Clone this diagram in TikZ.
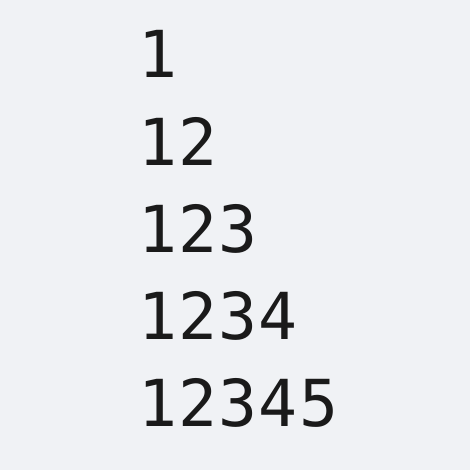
\documentclass[tikz,border=0pt]{standalone}
\usepackage{fontspec}
\setmonofont[LetterSpace=2]{DejaVu Sans Mono}
\definecolor{bgc}{HTML}{F0F2F5}
\definecolor{txt}{HTML}{1A1A1A}
\begin{document}
\begin{tikzpicture}[x=1bp,y=1bp,
  line/.style={anchor=base west,inner sep=0pt,font=\ttfamily\fontsize{65}{65}\selectfont,text=txt}]
\fill[bgc] (0,0) rectangle (470,470);
\useasboundingbox (0,0) rectangle (470,470);
\node[line] (l1) at (138,392) {1};
\node[line] (l2) at (138,304.5) {12};
\node[line] (l3) at (138,217.5) {123};
\node[line] (l4) at (138,130) {1234};
\node[line] (l5) at (138,43) {12345};
\end{tikzpicture}
\end{document}
